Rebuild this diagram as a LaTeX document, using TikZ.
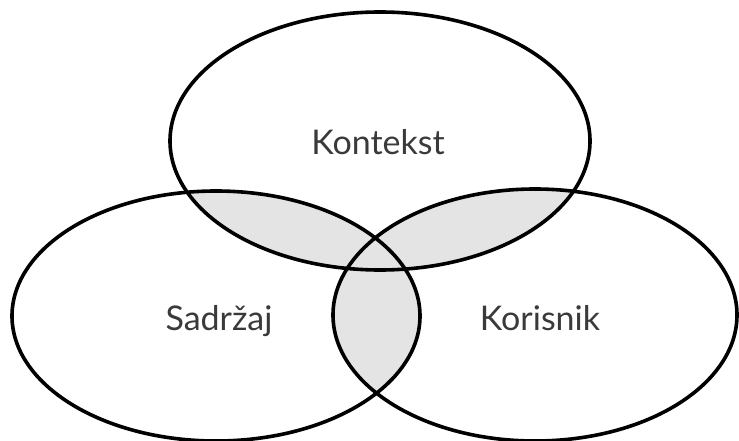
\documentclass[tikz,border=0pt]{standalone}
\usepackage{fontspec}
\setmainfont{Lato}
\definecolor{overlap}{HTML}{E4E4E4}
\definecolor{txt}{HTML}{3A3A3A}
\begin{document}
\begin{tikzpicture}[x=1pt,y=-1pt,
  ring/.style={draw=black,line width=3.6pt},
  lbl/.style={text=txt,font=\fontsize{34}{40}\selectfont,anchor=base,inner sep=0pt}]
\useasboundingbox (0,0) rectangle (739,441);
\def\topE{(380,141) ellipse [x radius=210pt, y radius=129pt]}
\def\leftE{(216,316) ellipse [x radius=204pt, y radius=125pt]}
\def\rightE{(535,315) ellipse [x radius=202pt, y radius=126pt]}
\begin{scope}\clip \topE; \fill[overlap] \leftE; \end{scope}
\begin{scope}\clip \topE; \fill[overlap] \rightE; \end{scope}
\begin{scope}\clip \leftE; \fill[overlap] \rightE; \end{scope}
\draw[ring] \topE;
\draw[ring] \leftE;
\draw[ring] \rightE;
\node[lbl] (k) at (378,155) {Kontekst};
\node[lbl] (s) at (219,330) {Sadržaj};
\node[lbl] (r) at (540,330) {Korisnik};
\end{tikzpicture}
\end{document}
